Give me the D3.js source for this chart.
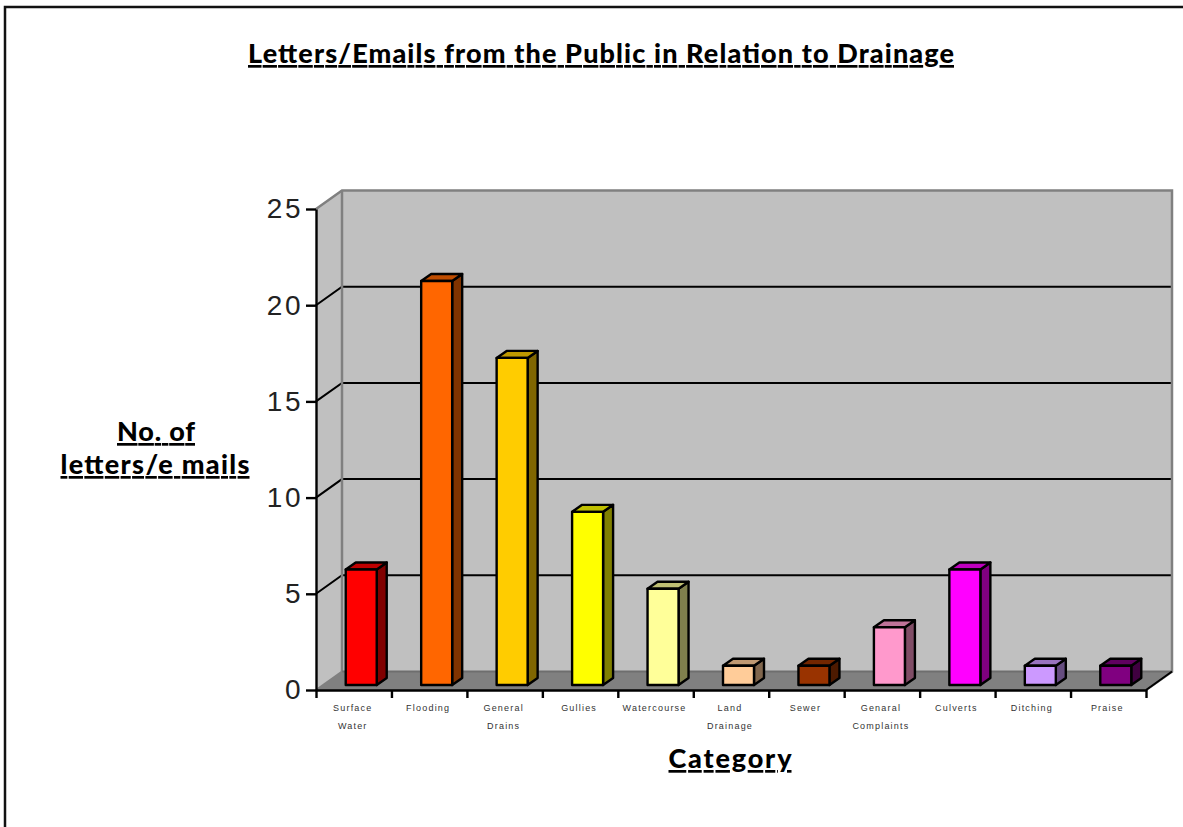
<!DOCTYPE html>
<html>
<head>
<meta charset="utf-8">
<script src="https://cdnjs.cloudflare.com/ajax/libs/d3/7.8.5/d3.min.js"></script>
<style>
  html, body { margin: 0; padding: 0; background: #fff; overflow: hidden; }
  svg { display: block; }
  .heading { font-family: Lato, sans-serif; font-weight: 900; fill: #000; text-decoration: underline; text-anchor: middle; }
</style>
</head>
<body>
<script>
const categories = ['Surface Water','Flooding','General Drains','Gullies','Watercourse','Land Drainage','Sewer','Genaral Complaints','Culverts','Ditching','Praise'];
const letters = [6,21,17,9,5,1,1,3,6,1,1];
const barColors = ['#ff0000','#ff6600','#ffcc00','#ffff00','#ffff99','#ffcc99','#993300','#ff99cc','#ff00ff','#cc99ff','#800080'];
const valueTicks = [0,5,10,15,20,25];

const w = 1183, h = 827;
const plot = {left: 316, right: 1146, top: 209, bottom: 690};
const depth = {x: 26, y: -18.5};        // how far the back wall is pushed
const bar = {w: 31, dx: 10, dy: -7, shiftX: 7.5, shiftY: -5};

const svg = d3.select('body').append('svg').attr('width', w).attr('height', h);

const x = d3.scaleBand().domain(categories).range([plot.left, plot.right]);
const xEdges = d3.scaleLinear().domain([0, categories.length]).range([plot.left, plot.right]);
const y = d3.scaleLinear().domain([0, 25]).range([plot.bottom, plot.top]);

const pts = (a) => a.map((p) => p.join(',')).join(' ');
const shade = (c, k) => {
  const r = d3.rgb(c);
  return d3.rgb(r.r * k, r.g * k, r.b * k).formatHex();
};

// chart frame, only top and left show in the crop
svg.append('path')
   .attr('d', `M5,${h} V7 H${w}`)
   .attr('fill', 'none')
   .attr('stroke', '#111')
   .attr('stroke-width', 2.5);

// walls + floor
const back = {l: plot.left + depth.x, r: plot.right + depth.x, t: plot.top + depth.y, b: plot.bottom + depth.y};

svg.append('polygon')
   .attr('points', pts([[plot.left, plot.top], [back.l, back.t], [back.l, back.b], [plot.left, plot.bottom]]))
   .attr('fill', '#c0c0c0');
svg.append('rect')
   .attr('x', back.l).attr('y', back.t)
   .attr('width', back.r - back.l).attr('height', back.b - back.t)
   .attr('fill', '#c0c0c0');
svg.append('polygon')
   .attr('points', pts([[plot.left, plot.bottom], [back.l, back.b], [back.r, back.b], [plot.right, plot.bottom]]))
   .attr('fill', '#808080');

// grid lines run along the side wall then the back wall
svg.append('g').selectAll('polyline')
   .data(valueTicks.filter((d) => d > 0 && d < 25))
   .enter()
   .append('polyline')
   .attr('points', (d) => pts([[plot.left, y(d)], [back.l, y(d) + depth.y], [back.r, y(d) + depth.y]]))
   .attr('fill', 'none')
   .attr('stroke', '#000')
   .attr('stroke-width', 2);

svg.append('polyline')
   .attr('points', pts([[plot.left, plot.top], [back.l, back.t], [back.r, back.t], [back.r, back.b], [plot.right, plot.bottom]]))
   .attr('fill', 'none')
   .attr('stroke', '#808080')
   .attr('stroke-width', 2.5);
svg.append('line')
   .attr('x1', back.l).attr('x2', back.l)
   .attr('y1', back.t).attr('y2', back.b)
   .attr('stroke', '#808080')
   .attr('stroke-width', 2.5);
svg.append('line')
   .attr('x1', back.l).attr('x2', back.r)
   .attr('y1', back.b).attr('y2', back.b)
   .attr('stroke', '#6e6e6e')
   .attr('stroke-width', 2);
svg.append('line')
   .attr('x1', plot.left).attr('y1', plot.bottom)
   .attr('x2', back.l).attr('y2', back.b)
   .attr('stroke', '#808080')
   .attr('stroke-width', 2);
svg.append('line')
   .attr('x1', plot.right).attr('y1', plot.bottom)
   .attr('x2', back.r).attr('y2', back.b)
   .attr('stroke', '#000')
   .attr('stroke-width', 2);

// 3d bars
const barData = categories.map((c, i) => ({name: c, value: letters[i], color: barColors[i]}));
const xl = (d) => x(d.name) + x.bandwidth() / 2 - bar.w / 2 + bar.shiftX;
const yt = (d) => y(d.value) + bar.shiftY;
const yb = y(0) + bar.shiftY;

const block = svg.append('g').selectAll('g')
                 .data(barData)
                 .enter()
                 .append('g')
                 .attr('stroke', '#000')
                 .attr('stroke-width', 2.4)
                 .attr('stroke-linejoin', 'round');

block.append('polygon')
     .attr('fill', (d) => shade(d.color, 0.5))
     .attr('points', (d) => pts([[xl(d) + bar.w, yt(d)], [xl(d) + bar.w + bar.dx, yt(d) + bar.dy], [xl(d) + bar.w + bar.dx, yb + bar.dy], [xl(d) + bar.w, yb]]));
block.append('polygon')
     .attr('fill', (d) => shade(d.color, 0.75))
     .attr('points', (d) => pts([[xl(d), yt(d)], [xl(d) + bar.dx, yt(d) + bar.dy], [xl(d) + bar.w + bar.dx, yt(d) + bar.dy], [xl(d) + bar.w, yt(d)]]));
block.append('rect')
     .attr('fill', (d) => d.color)
     .attr('x', xl)
     .attr('y', yt)
     .attr('width', bar.w)
     .attr('height', (d) => yb - yt(d));

// value axis
const yAxis = svg.append('g')
   .attr('transform', `translate(${plot.left},0)`)
   .call(d3.axisLeft(y).tickValues(valueTicks).tickSize(10).tickPadding(3).tickSizeOuter(0));
yAxis.selectAll('path, line').attr('stroke', '#000').attr('stroke-width', 2.4);
yAxis.selectAll('text')
     .attr('font-family', '"Liberation Sans", Arial, sans-serif')
     .attr('font-size', 28)
     .attr('letter-spacing', 2.5)
     .attr('fill', '#222');

// category axis: ticks on band edges, labels on band centres
const xTicks = svg.append('g')
   .attr('transform', `translate(0,${plot.bottom})`)
   .call(d3.axisBottom(xEdges).tickValues(d3.range(categories.length + 1)).tickFormat('').tickSize(8).tickSizeOuter(0));
xTicks.selectAll('path, line').attr('stroke', '#000').attr('stroke-width', 2.4);

const xLabels = svg.append('g')
   .attr('transform', `translate(0,${plot.bottom})`)
   .call(d3.axisBottom(x).tickSize(0).tickPadding(0));
xLabels.select('.domain').remove();
xLabels.selectAll('text').each(function(d) {
  const t = d3.select(this).text('').attr('y', 0).attr('dy', 0);
  d.split(' ').forEach((word, i) => {
    t.append('tspan').attr('x', -1).attr('y', 21 + i * 17.5).text(word);
  });
});
xLabels.selectAll('text')
       .attr('font-family', '"Liberation Sans", Arial, sans-serif')
       .attr('font-size', 9)
       .attr('letter-spacing', 1.2)
       .attr('fill', '#333');

// headings
const heading = (txt, cx, base, size, len) => svg.append('text')
   .attr('class', 'heading')
   .attr('x', cx).attr('y', base)
   .attr('font-size', size)
   .attr('textLength', len)
   .text(txt);

heading('Letters/Emails from the Public in Relation to Drainage', 601, 63, 27, 706);
heading('No. of', 156, 441, 27, 78);
heading('letters/e mails', 155, 474, 27, 189);
heading('Category', 730, 768, 27, 123);
</script>
</body>
</html>
